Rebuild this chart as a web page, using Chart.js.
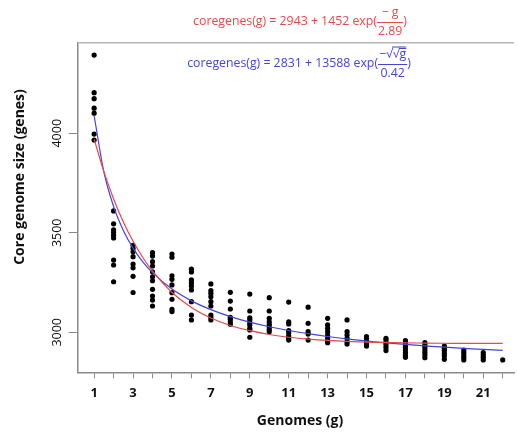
<!DOCTYPE html>
<html>
<head>
<meta charset="utf-8">
<script src="https://cdn.jsdelivr.net/npm/chart.js@4.4.1/dist/chart.umd.min.js"></script>
<style>
    body { margin: 0; background: #fff; }
    #wrap { width: 518px; height: 432px; }
</style>
</head>
<body>
<div id="wrap"><canvas id="coreChart" width="518" height="432"></canvas></div>
<script>
// ================= DATA =================
const genomes = [1, 2, 3, 4, 5, 6, 7, 8, 9, 10, 11, 12, 13, 14, 15, 16, 17, 18, 19, 20, 21, 22];

// core genome sizes observed for each number of genomes (one list per g)
const coreSizes = [
    [4393, 4204, 4174, 4126, 4101, 3996, 3966],
    [3610, 3545, 3515, 3501, 3487, 3474, 3363, 3338, 3254],
    [3437, 3422, 3405, 3380, 3343, 3324, 3281, 3200],
    [3400, 3383, 3355, 3333, 3304, 3279, 3259, 3216, 3182, 3162, 3132],
    [3393, 3377, 3284, 3266, 3238, 3199, 3166, 3115, 3104],
    [3317, 3303, 3263, 3249, 3233, 3213, 3154, 3087, 3062],
    [3243, 3209, 3196, 3179, 3154, 3132, 3087, 3075, 3062],
    [3201, 3157, 3117, 3075, 3065, 3053, 3041],
    [3192, 3107, 3073, 3062, 3048, 3037, 3020, 3012, 2975],
    [3174, 3107, 3070, 3053, 3040, 3028, 3015, 3003],
    [3152, 3052, 3042, 3009, 2997, 2981, 2971, 2961],
    [3126, 3045, 3003, 2991, 2961],
    [3070, 3037, 3020, 3003, 2986, 2970, 2956, 2948],
    [3062, 3003, 2986, 2970, 2953, 2941],
    [2978, 2970, 2958, 2948, 2936, 2931],
    [2970, 2961, 2948, 2936, 2923, 2908],
    [2958, 2948, 2936, 2925, 2911, 2898, 2886, 2874],
    [2948, 2936, 2925, 2911, 2898, 2886, 2872],
    [2931, 2920, 2908, 2894, 2881, 2864],
    [2911, 2898, 2886, 2874, 2861],
    [2898, 2886, 2874, 2861],
    [2861]
];

// fitted curves, read at these g values
const fitG = [1, 1.5, 2, 2.5, 3, 3.5, 4, 5, 6, 7, 8, 9, 10, 11, 12, 13, 14, 15, 16, 17, 18, 19, 20, 21, 22];
const expFit = [3970, 3807, 3670, 3554, 3457, 3376, 3307, 3200, 3125, 3072, 3034, 3008, 2989, 2975, 2966,
    2959, 2954, 2951, 2949, 2947, 2946, 2945, 2944, 2944, 2944];
const rootFit = [4088, 3806, 3632, 3512, 3423, 3354, 3300, 3217, 3158, 3114, 3079, 3051, 3028, 3009, 2993,
    2979, 2967, 2956, 2947, 2939, 2932, 2925, 2919, 2914, 2909];

const xTicks = genomes;
const xLabels = [1, 3, 5, 7, 9, 11, 13, 15, 17, 19, 21];
const yTicks = [3000, 3500, 4000];

const RED = '#e24b4b';
const BLUE = '#4545d4';

// ================= TEXT PLUGIN =================
function drawFormula(ctx, cx, cy, color, prefix, num, den, numRoots) {
    ctx.save();
    ctx.font = '12.3px "Open Sans"';
    ctx.fillStyle = color;
    ctx.strokeStyle = color;
    ctx.textBaseline = 'middle';
    ctx.textAlign = 'left';
    const wPre = ctx.measureText(prefix).width;
    const wNum = ctx.measureText(num).width;
    const wDen = ctx.measureText(den).width;
    const wFrac = Math.max(wNum, wDen) + 2;
    const wClose = ctx.measureText(')').width;
    let x = cx - (wPre + wFrac + wClose) / 2;
    ctx.fillText(prefix, x, cy);
    x += wPre;
    const numY = cy - 9.5;
    const denY = cy + 9.5;
    ctx.fillText(num, x + (wFrac - wNum) / 2, numY);
    ctx.fillText(den, x + (wFrac - wDen) / 2, denY);
    ctx.lineWidth = 1;
    ctx.beginPath();
    ctx.moveTo(x, cy + 1);
    ctx.lineTo(x + wFrac, cy + 1);
    ctx.stroke();
    // overlines for the radicals
    if (numRoots) {
        const nx = x + (wFrac - wNum) / 2;
        const minusW = ctx.measureText('−').width;
        const rootW = ctx.measureText('√').width;
        ctx.beginPath();
        ctx.moveTo(nx + minusW + rootW * 0.9, numY - 7);
        ctx.lineTo(nx + wNum, numY - 7);
        ctx.moveTo(nx + minusW + rootW * 1.9, numY - 5.5);
        ctx.lineTo(nx + wNum, numY - 5.5);
        ctx.stroke();
    }
    ctx.fillText(')', x + wFrac, cy);
    ctx.restore();
}

const textPlugin = {
    id: 'textPlugin',
    afterDraw(chart) {
        const ctx = chart.ctx;
        const area = chart.chartArea;
        const yScale = chart.scales.y;

        // top frame line
        ctx.save();
        ctx.strokeStyle = '#b5b5b5';
        ctx.lineWidth = 1.5;
        ctx.beginPath();
        ctx.moveTo(area.left, area.top);
        ctx.lineTo(area.right, area.top);
        ctx.stroke();

        // y tick labels, rotated like R
        ctx.fillStyle = '#111';
        ctx.font = '12.5px "Open Sans"';
        ctx.textAlign = 'center';
        ctx.textBaseline = 'middle';
        yTicks.forEach(v => {
            const py = yScale.getPixelForValue(v);
            ctx.save();
            ctx.translate(57, py);
            ctx.rotate(-Math.PI / 2);
            ctx.fillText(String(v), 0, 0);
            ctx.restore();
        });

        // axis titles
        ctx.font = 'bold 14px "Open Sans"';
        ctx.fillText('Genomes (g)', 300, 421);
        ctx.save();
        ctx.translate(20, 177);
        ctx.rotate(-Math.PI / 2);
        ctx.fillText('Core genome size (genes)', 0, 0);
        ctx.restore();
        ctx.restore();

        drawFormula(ctx, 300, 21.5, RED, 'coregenes(g) = 2943 + 1452 exp(', '− g', '2.89', false);
        drawFormula(ctx, 299, 63.5, BLUE, 'coregenes(g) = 2831 + 13588 exp(', '−√√g', '0.42', true);
    }
};

// ================= CHART =================
const corePoints = genomes.flatMap((g, i) => coreSizes[i].map(v => ({ x: g, y: v })));

new Chart(document.getElementById('coreChart').getContext('2d'), {
    type: 'scatter',
    data: {
        datasets: [
            {
                label: 'exp fit',
                data: fitG.map((g, i) => ({ x: g, y: expFit[i] })),
                showLine: true,
                borderColor: RED,
                borderWidth: 1.2,
                pointRadius: 0,
                cubicInterpolationMode: 'monotone',
                order: 0
            },
            {
                label: 'root fit',
                data: fitG.map((g, i) => ({ x: g, y: rootFit[i] })),
                showLine: true,
                borderColor: BLUE,
                borderWidth: 1.2,
                pointRadius: 0,
                cubicInterpolationMode: 'monotone',
                order: 0
            },
            {
                label: 'core genome',
                data: corePoints,
                backgroundColor: '#000',
                borderWidth: 0,
                pointRadius: 2.6,
                order: 1
            }
        ]
    },
    options: {
        responsive: false,
        animation: false,
        layout: { padding: { top: 42.7, left: 0, right: 0, bottom: 0 } },
        plugins: { legend: { display: false }, tooltip: { enabled: false } },
        scales: {
            x: {
                type: 'linear',
                min: 0.155,
                max: 22.58,
                afterBuildTicks: s => { s.ticks = xTicks.map(v => ({ value: v })); },
                afterFit: s => { s.height = 59.7; },
                grid: { drawOnChartArea: false, drawTicks: true, tickLength: 6, color: '#888' },
                border: { display: true, color: '#8a8a8a', width: 1.5 },
                ticks: {
                    autoSkip: false,
                    maxRotation: 0,
                    padding: 7,
                    color: '#111',
                    font: { family: '"Open Sans"', size: 13, weight: 'bold' },
                    callback: v => (xLabels.includes(v) ? String(v) : '')
                }
            },
            y: {
                type: 'linear',
                min: 2799,
                max: 4455,
                afterBuildTicks: s => { s.ticks = yTicks.map(v => ({ value: v })); },
                afterFit: s => { s.width = 77.7; },
                grid: { drawOnChartArea: false, drawTicks: true, tickLength: 9, color: '#888' },
                border: { display: true, color: '#8a8a8a', width: 1.5 },
                ticks: { color: 'rgba(0,0,0,0)', font: { size: 12 } }
            }
        }
    },
    plugins: [textPlugin]
});
</script>
</body>
</html>
